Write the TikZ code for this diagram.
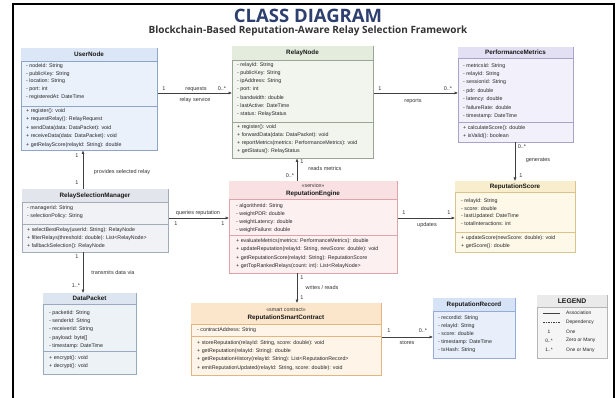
\documentclass[tikz,border=0pt]{standalone}
\usepackage{fontspec}
\setmainfont{Liberation Sans}
\newfontfamily\headfont{Open Sans}
\usetikzlibrary{arrows.meta}
\definecolor{userF}{HTML}{EAF1FB}\definecolor{userB}{HTML}{DBE6F6}\definecolor{userD}{HTML}{8EA6C6}
\definecolor{relayF}{HTML}{F1F5EE}\definecolor{relayB}{HTML}{E3ECDD}\definecolor{relayD}{HTML}{9AA596}
\definecolor{pmF}{HTML}{F2F0FA}\definecolor{pmB}{HTML}{E4E0F4}\definecolor{pmD}{HTML}{A9A2C9}
\definecolor{mgrF}{HTML}{F0F2F5}\definecolor{mgrB}{HTML}{E2E6EC}\definecolor{mgrD}{HTML}{A4ACB8}
\definecolor{engF}{HTML}{FDF0F1}\definecolor{engB}{HTML}{F9E0E3}\definecolor{engD}{HTML}{DEA3AB}
\definecolor{scoreF}{HTML}{FDF8E8}\definecolor{scoreB}{HTML}{F8EDCC}\definecolor{scoreD}{HTML}{D9C48E}
\definecolor{dpF}{HTML}{EDF2F7}\definecolor{dpB}{HTML}{DDE6F0}\definecolor{dpD}{HTML}{98AABF}
\definecolor{scF}{HTML}{FEF4E8}\definecolor{scB}{HTML}{FBE6CC}\definecolor{scD}{HTML}{E2B582}
\definecolor{recF}{HTML}{E8EFFB}\definecolor{recB}{HTML}{D6E3F7}\definecolor{recD}{HTML}{94ACD6}
\definecolor{legF}{HTML}{F5F5F5}\definecolor{legB}{HTML}{EAEAEA}\definecolor{legD}{HTML}{B5B5B5}
\definecolor{navy}{HTML}{2D3F6F}
\newcommand\klass[8]{%
 \node[classbox,draw=#6D,fill=#6F,minimum width={#4-#2},minimum height={#5-#3},anchor=north west] (#1) at (#2,#3) {};
 \fill[#6B] ({#2+0.3},{#3+0.3}) rectangle ({#4-0.3},#7);
 \draw[#6D,line width=0.4pt] (#2,#7) -- (#4,#7);
 \ifx&#8&\else\draw[#6D,line width=0.4pt] (#2,#8) -- (#4,#8);\fi
}
\newcommand\lines[6][txt]{%
 \foreach \t [count=\i] in {#6} {\node[#1,anchor=west] (#2\i) at (#3,{#4+(\i-1)*#5}) {\t};}
}
\begin{document}
\begin{tikzpicture}[x=1pt,y=-1pt,
 classbox/.style={draw,line width=0.5pt,inner sep=0,rectangle},
 txt/.style={font=\fontsize{5.3}{6}\selectfont,inner sep=0,text=black!85},
 legtxt/.style={font=\fontsize{4.9}{6}\selectfont,inner sep=0,text=black!85},
 ttl/.style={font=\bfseries\fontsize{6.3}{7}\selectfont,inner sep=0,text=black!90},
 stereo/.style={font=\fontsize{5.3}{6}\selectfont,inner sep=0,text=black!80},
 conn/.style={draw=black!75,line width=0.5pt},
 arr/.style={conn,-{Latex[length=3.5pt,width=3pt]}},
 lbl/.style={font=\fontsize{5.5}{6}\selectfont,inner sep=0,text=black!80}]
\useasboundingbox (0,0) rectangle (616,398);
\fill[white] (0,0) rectangle (616,398);
\draw[line width=2pt] (13,4) rectangle (614,410);
\node[font=\headfont\bfseries\fontsize{18.5}{19}\selectfont,text=navy] (title) at (308,15.5) {CLASS DIAGRAM};
\node[font=\headfont\bfseries\fontsize{10}{11}\selectfont,text=black!80] (subtitle) at (308,30.5) {Blockchain-Based Reputation-Aware Relay Selection Framework};
% UserNode
\klass{user}{21}{48}{157}{150}{user}{61}{106}
\node[ttl] (userT) at (89,54.5) {UserNode};
\lines{userA}{26}{66}{7.8}{- nodeId: String,- publicKey: String,- location: String,- port: int,- registeredAt: DateTime}
\lines{userM}{26}{111}{8.5}{+ register(): void,+ requestRelay(): RelayRequest,+ sendData(data: DataPacket): void,+ receiveData(data: DataPacket): void,+ getRelayScore(relayId: String): double}
% RelayNode
\klass{relay}{232}{46}{373}{158}{relay}{60}{122}
\node[ttl] (relayT) at (302.5,53) {RelayNode};
\lines{relayA}{237}{65}{8.2}{- relayId: String,- publicKey: String,- ipAddress: String,- port: int,- bandwidth: double,- lastActive: DateTime,- status: RelayStatus}
\lines{relayM}{237}{127}{8.2}{+ register(): void,+ forwardData(data: DataPacket): void,+ reportMetrics(metrics: PerformanceMetrics): void,+ getStatus(): RelayStatus}
% PerformanceMetrics
\klass{pm}{458}{47}{573}{142}{pm}{58}{122}
\node[ttl] (pmT) at (515.5,52.5) {PerformanceMetrics};
\lines{pmA}{463}{66}{8.3}{- metricsId: String,- relayId: String,- sessionId: String,- pdr: double,- latency: double,- failureRate: double,- timestamp: DateTime}
\lines{pmM}{463}{128}{8.5}{+ calculateScore(): double,+ isValid(): boolean}
% RelaySelectionManager
\klass{mgr}{22}{189}{168}{252}{mgr}{202}{224}
\node[ttl] (mgrT) at (95,195.5) {RelaySelectionManager};
\lines{mgrA}{27}{208}{8.5}{- managerId: String,- selectionPolicy: String}
\lines{mgrM}{27}{230}{8}{+ selectBestRelay(userId: String): RelayNode,+ filterRelays(threshold: double): List<RelayNode>,+ fallbackSelection(): RelayNode}
% ReputationEngine
\klass{eng}{229}{181}{397}{273}{eng}{199}{235}
\node[stereo] (engS) at (313,186) {«service»};
\node[ttl] (engT) at (313,193.5) {ReputationEngine};
\lines{engA}{236}{206}{8}{- algorithmId: String,- weightPDR: double,- weightLatency: double,- weightFailure: double}
\lines{engM}{236}{241}{8.5}{+ evaluateMetrics(metrics: PerformanceMetrics): double,{+ updateReputation(relayId: String, newScore: double): void},+ getReputationScore(relayId: String): ReputationScore,+ getTopRankedRelays(count: int): List<RelayNode>}
% ReputationScore
\klass{score}{455}{181}{575}{252}{score}{192}{232}
\node[ttl] (scoreT) at (515,186.5) {ReputationScore};
\lines{scoreA}{461}{201}{7.7}{- relayId: String,- score: double,- lastUpdated: DateTime,- totalInteractions: int}
\lines{scoreM}{461}{238}{8}{+ updateScore(newScore: double): void,+ getScore(): double}
% DataPacket
\klass{dp}{43}{293}{136}{374}{dp}{304}{351}
\node[ttl] (dpT) at (89.5,298.5) {DataPacket};
\lines{dpA}{49}{313}{8.3}{- packetId: String,- senderId: String,- receiverId: String,- payload: byte[],- timestamp: DateTime}
\lines{dpM}{49}{358}{8.5}{+ encrypt(): void,+ decrypt(): void}
% ReputationSmartContract
\klass{sc}{191}{303}{381}{375}{sc}{324}{336}
\node[stereo] (scS) at (286,309.5) {«smart contract»};
\node[ttl] (scT) at (286,317.5) {ReputationSmartContract};
\lines{scA}{197}{330}{8}{- contractAddress: String}
\lines{scM}{197}{343}{8.3}{{+ storeReputation(relayId: String, score: double): void},+ getReputation(relayId: String): double,+ getReputationHistory(relayId: String): List<ReputationRecord>,{+ emitReputationUpdated(relayId: String, score: double): void}}
% ReputationRecord
\klass{rec}{433}{298}{515}{358}{rec}{311}{}
\node[ttl] (recT) at (474,304.5) {ReputationRecord};
\lines{recA}{438}{318}{8}{- recordId: String,- relayId: String,- score: double,- timestamp: DateTime,- txHash: String}
% Legend
\klass{leg}{537}{295}{607}{358}{leg}{307.5}{}
\node[ttl,font=\bfseries\fontsize{6.8}{7}\selectfont] (legT) at (572,301.5) {LEGEND};
\coordinate (la1) at (543,313); \coordinate (la2) at (560,313);
\draw[conn] (la1) -- (la2);
\coordinate (ld1) at (543,322); \coordinate (ld2) at (560,322);
\draw[conn,dashed,dash pattern=on 1.5pt off 1pt] (ld1) -- (ld2);
\node[legtxt] (lg1) at (549,332) {1};
\node[legtxt] (lg2) at (549,341) {0..*};
\node[legtxt] (lg3) at (549,350) {1..*};
\lines[legtxt]{legX}{566}{313}{9.25}{Association,Dependency,One,Zero or Many,One or Many}
% connectors
\draw[arr] (user.east |- 0,93) -- (relay.west |- 0,93);
\node[lbl] (c1a) at (164,89) {1};
\node[lbl] (c1b) at (196,89) {requests};
\node[lbl] (c1c) at (222,89) {0..*};
\node[lbl] (c1d) at (195,100.5) {relay service};
\draw[arr] (relay.east |- 0,93) -- (pm.west |- 0,93);
\node[lbl] (c2a) at (380,89) {1};
\node[lbl] (c2b) at (448,89) {0..*};
\node[lbl] (c2c) at (413,101) {reports};
\draw[arr] (pm.south -| 515,0) -- (score.north -| 515,0);
\node[lbl] (c3a) at (522,147) {0..*};
\node[lbl] (c3b) at (538,160) {generates};
\node[lbl] (c3c) at (521,176) {1};
\draw[arr] (eng.north -| 297,0) -- (relay.south -| 297,0);
\node[lbl] (c4a) at (302,162) {1};
\node[lbl] (c4b) at (325,169) {reads metrics};
\node[lbl] (c4c) at (290,176) {0..*};
\draw[arr] (mgr.north -| 83,0) -- (user.south -| 83,0);
\node[lbl] (c5a) at (77,156) {1};
\node[lbl] (c5b) at (122,172) {provides selected relay};
\node[lbl] (c5c) at (77,183) {1};
\draw[arr] (mgr.east |- 0,218) -- (eng.west |- 0,218);
\node[lbl] (c6a) at (198,213) {queries reputation};
\node[lbl] (c6b) at (176,224) {1};
\node[lbl] (c6c) at (223,224) {1};
\draw[arr] (eng.east |- 0,218) -- (score.west |- 0,218);
\node[lbl] (c7a) at (404,213) {1};
\node[lbl] (c7b) at (449,213) {1};
\node[lbl] (c7c) at (427,225) {updates};
\draw[arr] (mgr.south -| 83,0) -- (dp.north -| 83,0);
\node[lbl] (c8a) at (77,257) {1};
\node[lbl] (c8b) at (113,273) {transmits data via};
\node[lbl] (c8c) at (76,286) {1..*};
\draw[arr] (eng.south -| 297,0) -- (sc.north -| 297,0);
\node[lbl] (c9a) at (302,278) {1};
\node[lbl] (c9b) at (322,288) {writes / reads};
\node[lbl] (c9c) at (302,298) {1};
\draw[arr] (sc.east |- 0,337) -- (rec.west |- 0,337);
\node[lbl] (c10a) at (389,331) {1};
\node[lbl] (c10b) at (423,331) {0..*};
\node[lbl] (c10c) at (407,343) {stores};
\end{tikzpicture}
\end{document}
